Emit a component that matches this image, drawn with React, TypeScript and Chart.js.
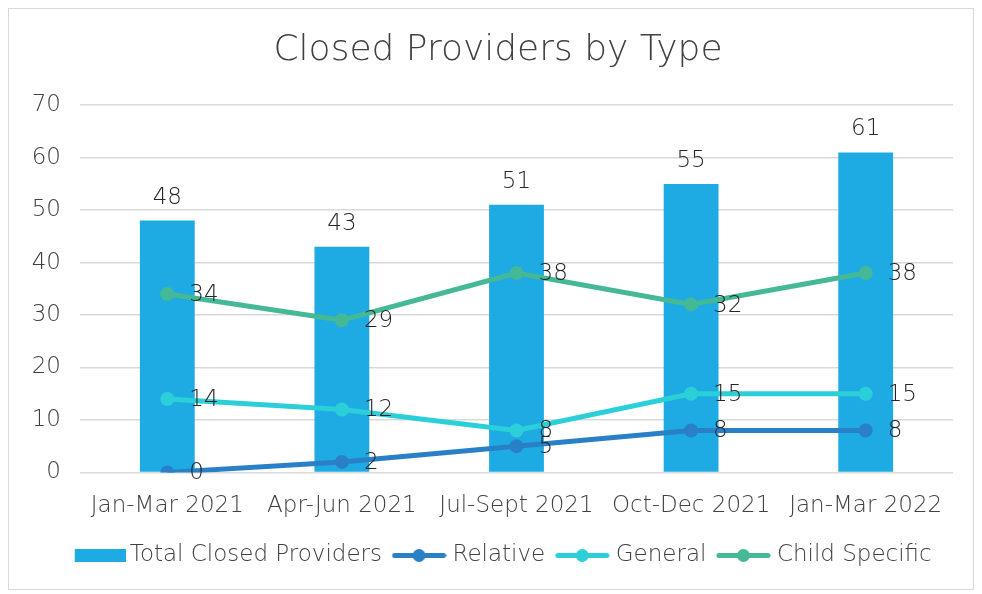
import React, { useEffect, useRef } from "react";
import { Chart, registerables } from "chart.js";
Chart.register(...registerables);

const categories = ["Jan-Mar 2021", "Apr-Jun 2021", "Jul-Sept 2021", "Oct-Dec 2021", "Jan-Mar 2022"];
const totalClosed = [48, 43, 51, 55, 61];
const relative = [0, 2, 5, 8, 8];
const general = [14, 12, 8, 15, 15];
const childSpecific = [34, 29, 38, 32, 38];
const yMax = 70;
const yStep = 10;

const FONT = "'DejaVu Sans', sans-serif";
const WEIGHT = "200";
const TEXT_COLOR = "#404040";
const LABEL_COLOR = "#262626";
const BAR_COLOR = "#1EABE3";
const REL_COLOR = "#2980C6";
const GEN_COLOR = "#2BCFD8";
const CHILD_COLOR = "#45B895";

function barIcon(color: string) {
  const c = document.createElement("canvas");
  c.width = 59;
  c.height = 13;
  const ctx = c.getContext("2d")!;
  ctx.fillStyle = color;
  ctx.fillRect(8, 0, 51, 13);
  return c;
}

function lineIcon(color: string) {
  const c = document.createElement("canvas");
  c.width = 55;
  c.height = 15;
  const ctx = c.getContext("2d")!;
  ctx.strokeStyle = color;
  ctx.lineWidth = 5;
  ctx.lineCap = "round";
  ctx.beginPath();
  ctx.moveTo(3, 7.5);
  ctx.lineTo(52, 7.5);
  ctx.stroke();
  ctx.fillStyle = color;
  ctx.beginPath();
  ctx.arc(27.5, 7.5, 6.5, 0, Math.PI * 2);
  ctx.fill();
  return c;
}

const labelPlugin = {
  id: "valueLabels",
  afterDatasetsDraw(chart: any) {
    const ctx = chart.ctx;
    ctx.save();
    ctx.font = `${WEIGHT} 23px ${FONT}`;
    ctx.fillStyle = LABEL_COLOR;
    chart.data.datasets.forEach((ds: any, i: number) => {
      const meta = chart.getDatasetMeta(i);
      meta.data.forEach((el: any, j: number) => {
        const v = ds.data[j];
        if (ds.type === "bar") {
          ctx.textAlign = "center";
          ctx.textBaseline = "alphabetic";
          ctx.fillText(String(v), el.x, el.y - 17);
        } else {
          ctx.textAlign = "left";
          ctx.textBaseline = "middle";
          ctx.fillText(String(v), el.x + 22, el.y + 1);
        }
      });
    });
    ctx.restore();
  },
};

// shifts the title and legend boxes to match the reference centring
const shiftPlugin = {
  id: "boxShift",
  afterUpdate(chart: any) {
    const t = chart.titleBlock;
    if (t) {
      t.left += 17;
      t.right += 17;
    }
    const l = chart.legend;
    if (l) {
      l.left += 22;
      l.right += 22;
      l.top -= 3;
      l.bottom -= 3;
    }
  },
};

export default function App() {
  const ref = useRef<HTMLCanvasElement>(null);
  useEffect(() => {
    if (!ref.current) return;
    const lineDs = (label: string, data: number[], color: string) => ({
      type: "line" as const,
      label,
      data,
      borderColor: color,
      backgroundColor: color,
      borderWidth: 5,
      pointStyle: "circle",
      pointRadius: 7,
      pointHoverRadius: 7,
      pointBorderWidth: 0,
      tension: 0,
      order: 0,
    });
    const font = (size: number) => ({ family: FONT, size, weight: WEIGHT as any });
    const chart = new Chart(ref.current, {
      data: {
        labels: categories,
        datasets: [
          {
            type: "bar",
            label: "Total Closed Providers",
            data: totalClosed,
            backgroundColor: BAR_COLOR,
            borderWidth: 0,
            categoryPercentage: 1,
            barPercentage: 0.314,
            order: 1,
          } as any,
          lineDs("Relative", relative, REL_COLOR),
          lineDs("General", general, GEN_COLOR),
          lineDs("Child Specific", childSpecific, CHILD_COLOR),
        ],
      },
      options: {
        animation: false,
        responsive: true,
        maintainAspectRatio: false,
        layout: { padding: { left: 0, right: 20, top: 0, bottom: 9 } },
        plugins: {
          tooltip: { enabled: false },
          title: {
            display: true,
            text: "Closed Providers by Type",
            color: TEXT_COLOR,
            font: font(36),
            padding: { top: 20, bottom: 33 },
          },
          legend: {
            position: "bottom",
            labels: {
              usePointStyle: true,
              pointStyleWidth: 44,
              boxWidth: 44,
              boxHeight: 13,
              padding: 15,
              color: TEXT_COLOR,
              font: font(23),
              generateLabels: (chart: any) =>
                chart.data.datasets.map((ds: any, i: number) => ({
                  text: ds.label,
                  fillStyle: ds.backgroundColor,
                  strokeStyle: ds.backgroundColor,
                  lineWidth: 0,
                  pointStyle: ds.type === "bar" ? barIcon(BAR_COLOR) : lineIcon(ds.borderColor),
                  hidden: false,
                  datasetIndex: i,
                  fontColor: TEXT_COLOR,
                })),
            },
          },
        },
        scales: {
          x: {
            grid: { display: false, drawTicks: false },
            border: { display: false },
            ticks: { color: TEXT_COLOR, font: font(23), padding: 20, maxRotation: 0 },
            afterFit: (scale: any) => {
              scale.height = scale.height - 8;
            },
          },
          y: {
            min: 0,
            max: yMax,
            grid: { color: "#D9D9D9", lineWidth: 1.5, drawTicks: false },
            border: { display: false },
            ticks: { stepSize: yStep, color: TEXT_COLOR, font: font(23), padding: 19 },
            afterFit: (scale: any) => {
              scale.width = 71;
            },
          },
        },
      },
      plugins: [labelPlugin, shiftPlugin],
    });
    return () => chart.destroy();
  }, []);
  return (
    <div
      style={{
        width: 966,
        height: 582,
        border: "1px solid #D9D9D9",
        boxSizing: "border-box",
        position: "relative",
      }}
    >
      <canvas ref={ref} />
    </div>
  );
}
